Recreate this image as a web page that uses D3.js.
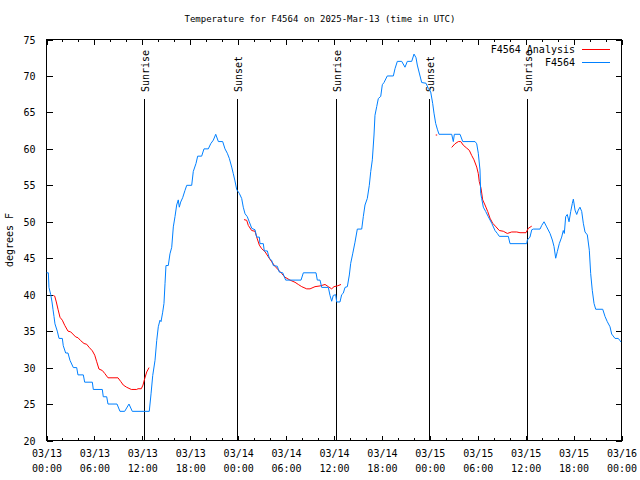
<!DOCTYPE html>
<html>
<head>
<meta charset="utf-8">
<script src="https://cdn.jsdelivr.net/npm/d3@7"></script>
<style>
  html, body { margin: 0; padding: 0; background: #ffffff; }
  svg { display: block; }
  text { font-family: "DejaVu Sans Mono", "Liberation Mono", monospace; font-size: 10px; fill: #000; }
</style>
</head>
<body>
<svg id="chart" width="640" height="480"></svg>
<script>
// ---------------- DATA ----------------
const titleText = "Temperature for F4564 on 2025-Mar-13 (time in UTC)";
const yLabelText = "degrees F";
const startUTC = Date.UTC(2025, 2, 13, 0, 0);
const endUTC = Date.UTC(2025, 2, 16, 0, 0);
const yTicks = [20, 25, 30, 35, 40, 45, 50, 55, 60, 65, 70, 75];

// Observed station (hours since 03/13 00:00 UTC, deg F)
const obsHours = [0.00,0.23,0.31,0.53,0.69,0.81,0.94,1.06,1.35,1.57,1.98,2.10,2.40,2.69,2.94,3.36,3.78,3.94,4.61,4.78,5.74,5.86,6.99,7.11,7.54,7.70,8.83,9.20,9.79,10.33,10.74,12.87,13.09,13.30,13.59,13.80,14.00,14.21,14.34,14.55,14.71,14.84,14.96,15.25,15.46,15.68,15.88,16.09,16.30,16.50,16.63,16.80,17.05,17.34,17.56,18.18,18.38,18.72,18.93,19.43,19.72,20.26,20.56,20.89,21.19,21.52,22.06,22.35,22.64,22.89,23.19,23.39,23.60,23.82,24.14,24.44,24.64,24.86,25.14,25.39,25.70,26.11,26.32,26.65,26.73,27.15,27.27,27.65,27.90,28.20,28.40,28.90,29.15,29.58,29.95,31.87,32.16,33.75,33.91,34.25,34.46,35.29,35.50,35.71,35.91,36.21,36.34,36.75,36.96,37.16,37.38,37.67,37.92,38.09,38.34,38.63,38.92,39.47,39.67,39.88,40.17,40.42,40.60,40.80,41.01,41.13,41.35,41.55,41.85,42.05,42.26,42.67,43.43,43.64,43.93,44.48,44.89,45.18,45.73,46.02,46.27,46.43,46.68,46.98,47.52,47.81,48.11,48.36,48.52,48.73,48.94,49.15,50.74,50.94,51.07,51.78,52.12,53.66,53.87,54.07,54.28,54.37,54.49,54.70,55.00,55.32,55.75,56.16,56.45,56.70,57.83,58.04,60.13,60.21,60.54,60.76,60.96,61.80,62.01,62.30,62.63,63.05,63.34,63.55,63.76,63.96,64.21,64.51,64.71,64.84,65.01,65.21,65.43,65.64,65.84,65.97,66.18,66.39,66.59,66.80,67.02,67.22,67.43,67.72,67.97,68.14,68.34,68.56,68.77,69.65,69.94,70.22,70.56,70.77,71.19,71.60,71.81,71.94];
const obsTemps = [43,43,41,40,39,38,37,36,35,34,34,33,32,32,31,30,30,29,29,28,28,27,27,26,26,25,25,24,24,25,24,24,26.4,28.9,31,33.7,35.6,36.5,36.3,37.6,38.8,41.5,44,44,45.6,46.5,49.3,50.7,52.3,53,52,52.7,53.3,54.3,55,55,56.9,58,59,59,60,60,60.7,61.2,62,61,61,60,59.4,58.7,57.5,56.6,55.6,54.4,53.9,53.2,52,51.1,50.7,50,49.1,48.9,47.9,47.9,47,47,46,46,45,44.7,44,43.9,43.1,43,42,42,43,43,42,42,41,41,39.9,39.1,39.9,40,39,39,40,40.2,41,41.1,42.7,44.3,45.6,47.2,49,49,50.7,52.3,53.2,55,56.9,58.5,61.9,64.6,65.8,66.9,67.2,68.8,69.1,70,70,71,72,72,71.2,72,72,73,72.5,71.5,70.4,69.1,69,68.3,67.8,66.2,64.9,63.5,62.7,62,62,61,62,62,61,61,60.7,59.4,57.1,53.9,53.2,52,51.4,50.7,49.8,48.8,48.4,48,48,47,47,47.5,47.9,48.9,49,49,49.5,50,49.3,48.4,47.5,46.6,45,45.9,47,47.9,48.8,48.4,50.7,51,50,51.4,52.5,53.1,51.6,51,51.6,52,51.4,49.8,48.6,48.2,46.1,42.9,40.6,38.8,38,38,37,36.3,35.6,34.6,34,34,33.7,33.5];

// Analysis (null = gap)
const anaHours = [0.85,1.03,1.23,1.44,1.69,1.98,2.28,2.69,3.03,3.66,3.94,4.28,4.70,5.03,5.32,5.74,6.04,6.29,6.57,6.99,7.29,7.70,8.95,9.29,9.62,10.04,10.62,11.29,11.46,11.87,12.08,12.30,12.55,12.84,12.90,
  24.73,25.07,25.27,25.69,26.11,26.32,26.65,26.95,27.36,27.77,28.20,28.61,29.03,29.45,29.86,30.49,31.12,31.53,31.96,32.58,33.00,33.62,34.25,34.88,35.29,35.71,36.00,36.41,36.88,36.95,
  48.74,48.92,48.95,
  50.74,51.15,51.57,51.87,52.19,52.62,52.94,53.24,53.53,53.87,54.07,54.19,54.41,54.62,54.91,55.25,55.53,55.87,56.29,56.70,57.20,57.70,58.25,58.88,59.29,60.04,60.33,60.76];
const anaTemps = [39.9,39.8,39,38,36.9,36.5,35.8,35,34.9,34.2,34.1,33.7,33.3,33.2,32.8,32.3,31.7,30.8,29.8,29.6,29.2,28.6,28.6,28.1,27.6,27.3,27,27,27.1,27.1,27.6,28.5,29.4,30,null,
  50.3,50.2,49.5,48.8,48.7,47.9,46.8,46.3,45.9,45.2,44.5,43.9,43.4,42.9,42.4,42,41.7,41.4,41.1,40.8,40.8,41.1,41.2,41.4,41.1,40.8,41.1,41.2,41.4,null,
  61.9,61.9,null,
  60.2,60.7,61,61,60.5,60.1,59.8,59.1,58.5,57.5,56.6,55.5,54.6,53,52.3,51.4,50.5,49.8,49.3,48.8,48.7,48.4,48.6,48.6,48.5,48.5,49.1,49.4];

// Sunrise / sunset markers
const eventHours = [12.25, 23.89, 36.27, 47.92, 60.2];
const eventNames = ["Sunrise", "Sunset", "Sunrise", "Sunset", "Sunrise"];

const seriesNames = ["F4564 Analysis", "F4564"];
const seriesColors = ["#ff0000", "#0080ff"];

// ---------------- CHART ----------------
const svg = d3.select("#chart");
const L = 46.5, R = 621.5, T = 39.5, B = 440.5;
const hourMs = 3600 * 1000;
const toDate = h => new Date(startUTC + h * hourMs);

const x = d3.scaleUtc().domain([new Date(startUTC), new Date(endUTC)]).range([L, R]);
const y = d3.scaleLinear().domain([20, 75]).range([B, T]);

const majorX = d3.range(0, 73, 6).map(toDate);
const minorX = d3.range(0, 73, 2).filter(h => h % 6 !== 0).map(toDate);

// Title
svg.append("text").attr("x", 320).attr("y", 22).attr("text-anchor", "middle")
  .style("font-size", "9px").text(titleText);

// Y label
svg.append("text").attr("transform", "translate(13,240) rotate(-90)")
  .attr("text-anchor", "middle").text(yLabelText);

// Bottom axis major
const gB = svg.append("g").attr("transform", `translate(0,${B})`)
  .call(d3.axisBottom(x).tickValues(majorX).tickSize(-5).tickSizeOuter(0).tickPadding(0).tickFormat(""));
gB.select(".domain").remove();
gB.selectAll(".tick").each(function(d) {
  const t = d3.select(this).append("text").attr("fill", "#000").attr("text-anchor", "middle");
  t.append("tspan").attr("x", 0).attr("y", 16).text(d3.utcFormat("%m/%d")(d));
  t.append("tspan").attr("x", 0).attr("y", 31).text(d3.utcFormat("%H:%M")(d));
});
svg.append("g").attr("transform", `translate(0,${B})`)
  .call(d3.axisBottom(x).tickValues(minorX).tickSize(-2.5).tickSizeOuter(0).tickFormat(""))
  .select(".domain").remove();

// Top axis (mirror)
svg.append("g").attr("transform", `translate(0,${T})`)
  .call(d3.axisTop(x).tickValues(majorX).tickSize(-5).tickSizeOuter(0).tickFormat(""))
  .select(".domain").remove();
svg.append("g").attr("transform", `translate(0,${T})`)
  .call(d3.axisTop(x).tickValues(minorX).tickSize(-2.5).tickSizeOuter(0).tickFormat(""))
  .select(".domain").remove();

// Left axis
const gL = svg.append("g").attr("transform", `translate(${L},0)`)
  .call(d3.axisLeft(y).tickValues(yTicks).tickSize(-6).tickSizeOuter(0).tickPadding(11).tickFormat(d3.format("d")));
gL.select(".domain").remove();
gL.selectAll("text").attr("dy", "0.35em");

// Right axis mirror
svg.append("g").attr("transform", `translate(${R},0)`)
  .call(d3.axisRight(y).tickValues(yTicks).tickSize(-6).tickSizeOuter(0).tickFormat(""))
  .select(".domain").remove();

svg.selectAll(".tick line").attr("stroke", "#000").attr("shape-rendering", "crispEdges");
svg.selectAll("g text").style("font-family", '"DejaVu Sans Mono", monospace').style("font-size", "10px");

// Frame
svg.append("rect").attr("x", L).attr("y", T).attr("width", R - L).attr("height", B - T)
  .attr("fill", "none").attr("stroke", "#000").attr("shape-rendering", "crispEdges");

// Sunrise/sunset lines
const ev = svg.append("g");
eventHours.forEach((h, i) => {
  const xx = Math.round(x(toDate(h))) + 0.5;
  ev.append("line").attr("x1", xx).attr("x2", xx).attr("y1", 99).attr("y2", B)
    .attr("stroke", "#000").attr("shape-rendering", "crispEdges");
  ev.append("text").attr("transform", `translate(${xx + 4},92) rotate(-90)`)
    .attr("text-anchor", "start").text(eventNames[i]);
});

// Lines
const line = d3.line()
  .defined(d => d[1] !== null)
  .x(d => x(toDate(d[0])))
  .y(d => y(d[1]));

const anaData = anaHours.map((h, i) => [h, anaTemps[i]]);
const obsData = obsHours.map((h, i) => [h, obsTemps[i]]);

svg.append("path").datum(anaData).attr("d", line)
  .attr("fill", "none").attr("stroke", seriesColors[0]).attr("stroke-width", 1);
svg.append("path").datum(obsData).attr("d", line)
  .attr("fill", "none").attr("stroke", seriesColors[1]).attr("stroke-width", 1);

// Legend
const legY = [49.5, 62.5];
seriesNames.forEach((name, i) => {
  svg.append("text").attr("x", 575).attr("y", legY[i]).attr("dy", "0.35em")
    .attr("text-anchor", "end").text(name);
  svg.append("line").attr("x1", 582).attr("x2", 610).attr("y1", legY[i]).attr("y2", legY[i])
    .attr("stroke", seriesColors[i]).attr("shape-rendering", "crispEdges");
});
</script>
</body>
</html>
